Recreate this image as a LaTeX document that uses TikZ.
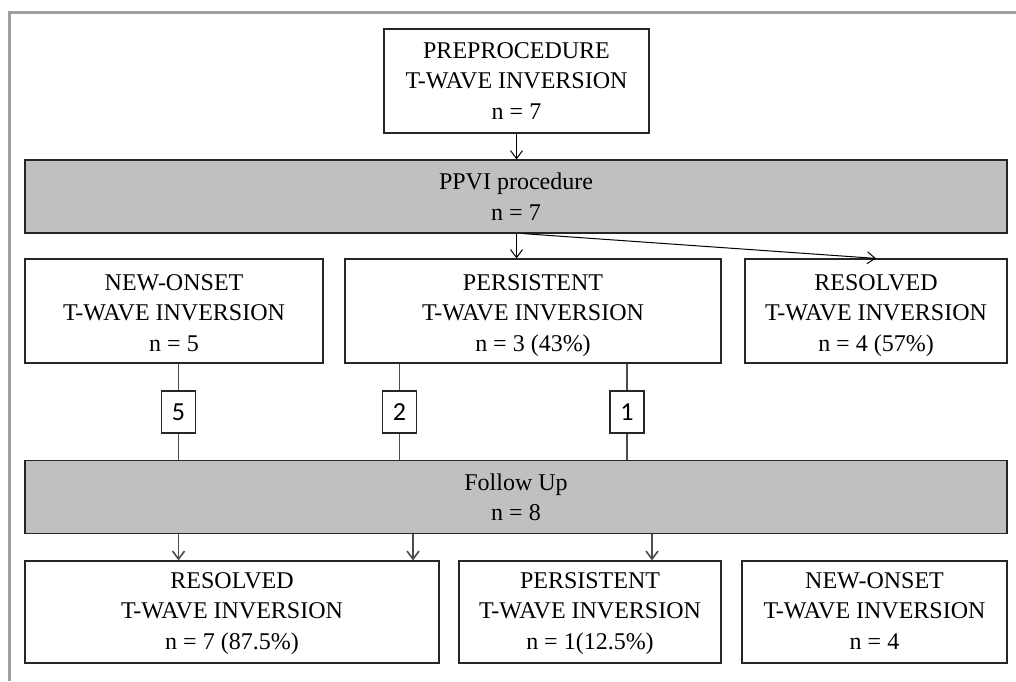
\documentclass[tikz,border=0pt]{standalone}
\usepackage{fontspec}
\setmainfont{Liberation Serif}
\newfontfamily\numfont{Carlito}
\usetikzlibrary{arrows.meta}
\definecolor{bandgray}{RGB}{192,192,192}
\definecolor{framegray}{RGB}{160,160,160}
% first line lifted to a given height, last line given a fixed depth
\newcommand\boxtext[4]{\rule{0pt}{#1}#2\\#3\\#4\rule[-2.6pt]{0pt}{0pt}}
\newcommand\bandtext[3]{\rule{0pt}{#1}#2\\#3\rule[-2.6pt]{0pt}{0pt}}
\begin{document}
\begin{tikzpicture}[x=0.5pt, y=-0.5pt,
  box/.style={draw=black!85, line width=0.6pt, fill=white, inner sep=0pt, align=center,
    minimum height=52pt, font=\fontsize{12}{15.25}\selectfont},
  band/.style={box, fill=bandgray, minimum width=491pt, minimum height=36.5pt},
  count/.style={draw=black!85, line width=0.6pt, fill=white, inner sep=0pt,
    minimum width=17pt, minimum height=21pt, font=\numfont\fontsize{13}{13}\selectfont},
  arr/.style={-{Straight Barb[length=4pt,width=6pt]}, line width=0.5pt},
  link/.style={draw=black!70, line width=0.8pt}]

  \useasboundingbox (0,0) rectangle (1016,681);
  \draw[framegray, line width=1.5pt] (9.5,681) -- (9.5,12.5) -- (1016,12.5);

  \node[box, minimum width=132.5pt] (pre) at (516.5,81) {\boxtext{10.1pt}{PREPROCEDURE}{T-WAVE INVERSION}{n = 7}};
  \node[band] (ppvi) at (516,196.5) {\bandtext{11.1pt}{PPVI procedure}{n = 7}};

  \node[box, minimum width=149pt] (newonset) at (174,311) {\boxtext{12.1pt}{NEW-ONSET}{T-WAVE INVERSION}{n = 5}};
  \node[box, minimum width=188pt] (persist) at (533,311) {\boxtext{12.1pt}{PERSISTENT}{T-WAVE INVERSION}{n = 3 (43\%)}};
  \node[box, minimum width=131pt] (resolved) at (876,311) {\boxtext{12.1pt}{RESOLVED}{T-WAVE INVERSION}{n = 4 (57\%)}};

  \node[count] (c5) at (178.5,412) {5};
  \node[count] (c2) at (399.5,412) {2};
  \node[count] (c1) at (627,412) {1};

  \node[band] (followup) at (516,497) {\bandtext{11.1pt}{Follow Up}{n = 8}};

  \node[box, minimum width=207pt, minimum height=51pt] (resolved2) at (232,612) {\boxtext{9.1pt}{RESOLVED}{T-WAVE INVERSION}{n = 7 (87.5\%)}};
  \node[box, minimum width=131pt, minimum height=51pt] (persist2) at (590,612) {\boxtext{9.1pt}{PERSISTENT}{T-WAVE INVERSION}{n = 1(12.5\%)}};
  \node[box, minimum width=132.5pt, minimum height=51pt] (newonset2) at (874.5,612) {\boxtext{9.1pt}{NEW-ONSET}{T-WAVE INVERSION}{n = 4}};

  \coordinate (split) at (523,0);
  \coordinate (down2) at (413,0);
  \coordinate (down3) at (652,0);

  \draw[arr] (pre.south) -- (pre.south |- ppvi.north);
  \draw[arr] (ppvi.south -| pre.south) -- (persist.north -| pre.south);
  \draw[arr] (ppvi.south -| split) -- (resolved.north); %% to resolved

  \foreach \c/\from in {c5/newonset, c2/persist, c1/persist} {
    \draw[link] (\from.south -| \c) -- (\c.north);
    \draw[link] (\c.south) -- (\c |- followup.north);
  }

  \draw[arr, link] (followup.south -| c5) -- (resolved2.north -| c5);
  \draw[arr, link] (followup.south -| down2) -- (resolved2.north -| down2);
  \draw[arr, link] (followup.south -| down3) -- (persist2.north -| down3);
\end{tikzpicture}
\end{document}
